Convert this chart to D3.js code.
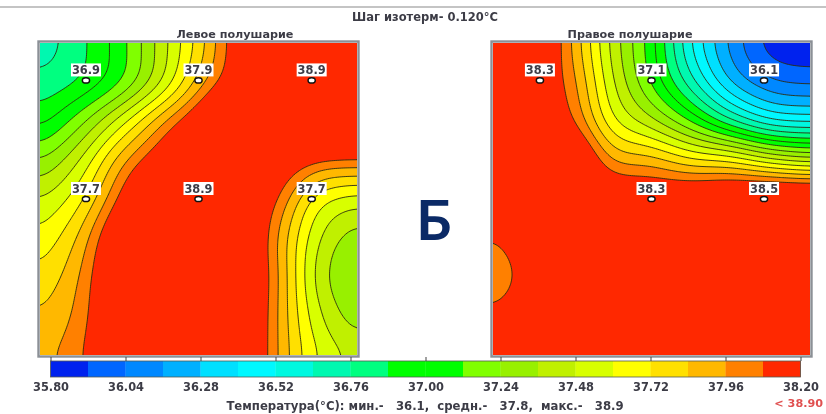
<!DOCTYPE html>
<html>
<head>
<meta charset="utf-8">
<script src="https://d3js.org/d3.v7.min.js"></script>
<style>
    html, body { margin: 0; padding: 0; background: #fff; }
    svg { display: block; filter: blur(0.5px); }
    text { font-family: "DejaVu Sans", sans-serif; font-weight: bold; fill: #3c3c46; }
</style>
</head>
<body>
<svg id="chart" width="826" height="414"></svg>
<script>
var title_text = "Шаг изотерм- 0.120°C";
var panel_names = ["Левое полушарие", "Правое полушарие"];
var footer_text = "Температура(°C): мин.-   36.1,  средн.-   37.8,  макс.-   38.9";
var over_text = "< 38.90";
var letter_text = "Б";

var step_min = 35.8;
var step_size = 0.12;
var band_colors = ["#0022ee", "#0066ff", "#0088ff", "#00b0ff", "#00e0ff", "#00f8ff", "#00f8e0", "#00f8b0", "#00ff80", "#00ff00",
    "#00ff00", "#80ff00", "#98f000", "#c0f000", "#d8ff00", "#ffff00", "#ffe000", "#ffb800", "#ff8000", "#ff2800"];
var bar_ticks = [35.80, 36.04, 36.28, 36.52, 36.76, 37.00, 37.24, 37.48, 37.72, 37.96, 38.20];

// temperature on a 9x9 net, in isotherm steps above 35.80
var left_grid = [
    [7.5, 8.7, 10.5, 13.3, 16.4, 20, 23, 25, 25],
    [8.3, 9.1, 10.9, 13.8, 17.4, 20.6, 24, 25, 25],
    [9.7, 11.6, 14.4, 17.5, 20.5, 24, 25, 25, 24],
    [12, 14, 17.4, 20.2, 23, 23, 21, 19.2, 18.9],
    [14, 15.7, 19.2, 23, 25, 22, 19, 15.6, 14.6],
    [15.3, 17.2, 21, 24, 25, 22, 18, 14.2, 12.5],
    [16.3, 18, 21.5, 24, 25, 22, 18.1, 13.7, 11.9],
    [17.1, 18.4, 21.5, 24, 25, 22, 18, 14.3, 12.5],
    [17.7, 18.8, 21.5, 24, 25, 22, 18, 15, 13.7]
];
var right_grid = [
    [23, 21.5, 17.9, 13.7, 10.4, 6, 2.7, 0.6, 0.2],
    [23, 20.8, 18.4, 14.2, 10.9, 7.4, 4, 2.2, 1.8],
    [22, 21, 19.2, 15.3, 13.3, 10.9, 8.2, 6.2, 5.8],
    [21, 21, 21.5, 18, 17.4, 16.2, 15.7, 14.3, 13.5],
    [20, 20.5, 21.8, 21, 20.8, 21, 21.5, 22, 22],
    [19.05, 20.3, 21.5, 21.5, 22, 22, 22, 22, 22],
    [18.1, 20, 21.5, 21.5, 22, 22, 22, 22, 22],
    [19.4, 20.5, 21.5, 21.5, 22, 22, 22, 22, 22],
    [20.5, 21, 21.5, 21.5, 22, 22, 22, 22, 22]
];

var left_sensor_x = [0.145, 0.5, 0.857, 0.145, 0.5, 0.857];
var left_sensor_y = [0.12, 0.12, 0.12, 0.5, 0.5, 0.5];
var left_sensor_val = ["36.9", "37.9", "38.9", "37.7", "38.9", "37.7"];
var right_sensor_x = [0.148, 0.5, 0.855, 0.5, 0.855];
var right_sensor_y = [0.12, 0.12, 0.12, 0.5, 0.5];
var right_sensor_val = ["38.3", "37.1", "36.1", "38.3", "38.5"];

var svg = d3.select("#chart");
var upscale = 20;

function catmull(a, b, c, d, t) {
    return 0.5 * (2 * b + (c - a) * t + (2 * a - 5 * b + 4 * c - d) * t * t + (3 * b - a - 3 * c + d) * t * t * t);
}
// smooth the net up to a fine one, the contour lines are taken from that
function refine(grid) {
    var rows = grid.length;
    var cols = grid[0].length;
    var n = (cols - 1) * upscale + 1;
    var out = new Array(n * n);
    function at(r, c) {
        return grid[Math.max(0, Math.min(rows - 1, r))][Math.max(0, Math.min(cols - 1, c))];
    }
    for (var j = 0; j < n; j++) {
        var fy = j / upscale;
        var r = Math.min(Math.floor(fy), rows - 2);
        var ty = fy - r;
        for (var i = 0; i < n; i++) {
            var fx = i / upscale;
            var c = Math.min(Math.floor(fx), cols - 2);
            var tx = fx - c;
            var col = [];
            for (var k = -1; k < 3; k++) {
                col.push(catmull(at(r + k, c - 1), at(r + k, c), at(r + k, c + 1), at(r + k, c + 2), tx));
            }
            out[j * n + i] = step_min + step_size * catmull(col[0], col[1], col[2], col[3], ty);
        }
    }
    // net is rough, take the kinks out of the lines
    d3.blur2({data: out, width: n, height: n}, 4);
    return {values: out, n: n};
}

function draw_panel(id, grid, box, name, name_x, sens_x, sens_y, sens_val) {
    var x = d3.scaleLinear().domain([0, 1]).range([box.x0, box.x1]);
    var y = d3.scaleLinear().domain([0, 1]).range([box.y0, box.y1]);
    var fine = refine(grid);
    var levels = d3.range(band_colors.length).map(function (i) {
        return step_min + i * step_size;
    });
    var band_of = d3.scaleOrdinal().domain(levels).range(band_colors);
    var polys = d3.contours().size([fine.n, fine.n]).thresholds(levels)(fine.values);
    var path = d3.geoPath(d3.geoTransform({
        point: function (px, py) {
            this.stream.point(x((px - 0.5) / (fine.n - 1)), y((py - 0.5) / (fine.n - 1)));
        }
    }));

    svg.append("clipPath").attr("id", id + "_clip")
            .append("rect")
            .attr("x", box.x0).attr("y", box.y0)
            .attr("width", box.x1 - box.x0).attr("height", box.y1 - box.y0);
    var g = svg.append("g").attr("clip-path", "url(#" + id + "_clip)");
    g.append("rect")
            .attr("x", box.x0).attr("y", box.y0)
            .attr("width", box.x1 - box.x0).attr("height", box.y1 - box.y0)
            .attr("fill", band_colors[0]);
    g.selectAll("path.band").data(polys).enter().append("path")
            .attr("class", "band")
            .attr("d", path)
            .attr("fill", function (d) {
                return band_of(d.value);
            })
            .attr("stroke", function (d, i) {
                return i == 0 ? "none" : "#2c2c10";
            })
            .attr("stroke-width", 0.9);

    svg.append("rect")
            .attr("x", box.x0 - 1.5).attr("y", box.y0 - 1.5)
            .attr("width", box.x1 - box.x0 + 3).attr("height", box.y1 - box.y0 + 3)
            .attr("fill", "none").attr("stroke", "#8b9096").attr("stroke-width", 2.4);
    svg.append("text")
            .attr("x", name_x).attr("y", 38)
            .attr("text-anchor", "middle")
            .style("font-size", "11.2px")
            .text(name);

    for (var i = 0; i < sens_val.length; i++) {
        var sx = x(sens_x[i]);
        var sy = y(sens_y[i]);
        svg.append("rect")
                .attr("x", sx - 15).attr("y", sy - 17)
                .attr("width", 30).attr("height", 13)
                .attr("fill", "#fff");
        svg.append("text")
                .attr("x", sx).attr("y", sy - 6.5)
                .attr("text-anchor", "middle")
                .style("font-size", "11.4px")
                .text(sens_val[i]);
        svg.append("ellipse")
                .attr("cx", sx).attr("cy", sy)
                .attr("rx", 3.6).attr("ry", 2.6)
                .attr("fill", "#fff").attr("stroke", "#111").attr("stroke-width", 1.5);
    }
}

function draw_bar() {
    var bar_x = d3.scaleLinear().domain([step_min, 38.2]).range([50.5, 800.5]);
    var top = 361, bot = 377;
    svg.selectAll("rect.bar").data(band_colors).enter().append("rect")
            .attr("class", "bar")
            .attr("x", function (d, i) {
                return bar_x(step_min + i * step_size);
            })
            .attr("y", top)
            .attr("width", bar_x(step_min + step_size) - bar_x(step_min) + 0.3)
            .attr("height", bot - top)
            .attr("fill", function (d) {
                return d;
            });
    svg.append("rect")
            .attr("x", bar_x.range()[0]).attr("y", top)
            .attr("width", bar_x.range()[1] - bar_x.range()[0]).attr("height", bot - top)
            .attr("fill", "none").attr("stroke", "#555a50").attr("stroke-width", 0.8);
    var tick_top = d3.axisTop(bar_x).tickValues(bar_ticks).tickSize(4).tickFormat("");
    svg.append("g").attr("transform", "translate(0," + top + ")").call(tick_top)
            .call(function (a) {
                a.select(".domain").remove();
                a.selectAll("line").attr("stroke", "#444");
            });
    var tick_bot = d3.axisBottom(bar_x).tickValues(bar_ticks).tickSize(0).tickPadding(6).tickFormat(d3.format(".2f"));
    svg.append("g").attr("transform", "translate(0," + bot + ")").call(tick_bot)
            .call(function (a) {
                a.select(".domain").remove();
                a.selectAll("text")
                        .attr("fill", null)
                        .style("font-family", "DejaVu Sans")
                        .style("font-weight", "bold")
                        .style("font-size", "11.4px");
            });
}

svg.append("rect").attr("width", 826).attr("height", 414).attr("fill", "#fff");
svg.append("line")
        .attr("x1", 0).attr("x2", 826).attr("y1", 7).attr("y2", 7)
        .attr("stroke", "#c4c4c4").attr("stroke-width", 2);
svg.append("text")
        .attr("x", 425).attr("y", 21)
        .attr("text-anchor", "middle")
        .style("font-size", "11.5px")
        .text(title_text);

draw_panel("left", left_grid, {x0: 40, x1: 357, y0: 43, y1: 355}, panel_names[0], 235, left_sensor_x, left_sensor_y, left_sensor_val);
draw_panel("right", right_grid, {x0: 493, x1: 810, y0: 43, y1: 355}, panel_names[1], 630, right_sensor_x, right_sensor_y, right_sensor_val);
draw_bar();

svg.append("text")
        .attr("x", 434).attr("y", 240)
        .attr("text-anchor", "middle")
        .style("font-family", "Lato")
        .style("font-size", "56px")
        .style("fill", "#0b2a66")
        .text(letter_text);
svg.append("text")
        .attr("x", 425).attr("y", 410)
        .attr("text-anchor", "middle")
        .style("white-space", "pre")
        .style("font-size", "11.7px")
        .text(footer_text);
svg.append("text")
        .attr("x", 823).attr("y", 407)
        .attr("text-anchor", "end")
        .style("font-size", "11.2px")
        .style("fill", "#e05050")
        .text(over_text);
</script>
</body>
</html>
